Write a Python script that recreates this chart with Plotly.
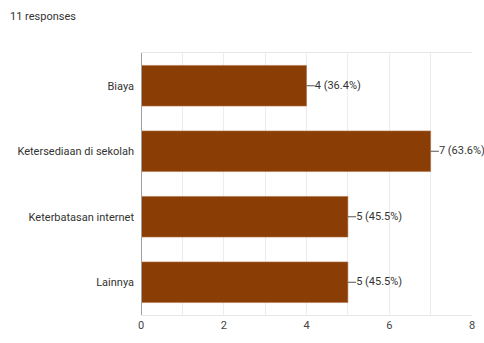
import plotly.graph_objects as go

categories = ["Biaya", "Ketersediaan di sekolah", "Keterbatasan internet", "Lainnya"]
counts = [4, 7, 5, 5]
total_responses = 11
x_ticks = [0, 2, 4, 6, 8]

BAR_COLOR = "#8a3d05"
FONT = "Roboto, Arial, sans-serif"
LEADER = 0.2  # leader line length, in axis units

labels = [f"{n} ({100.0 * n / total_responses:.1f}%)" for n in counts]

fig = go.Figure(
    go.Bar(
        x=counts,
        y=categories,
        orientation="h",
        marker=dict(color=BAR_COLOR, line=dict(color="#b0734a", width=0.6)),
        width=0.62,
        hoverinfo="skip",
    )
)

# short leader lines from each bar end to its label
for cat, n in zip(categories, counts):
    fig.add_trace(go.Scatter(
        x=[n, n + LEADER], y=[cat, cat], mode="lines",
        line=dict(color="#555555", width=1),
        hoverinfo="skip", cliponaxis=False,
    ))

fig.add_trace(go.Scatter(
    x=[n + LEADER for n in counts], y=categories,
    mode="text", text=labels, textposition="middle right",
    textfont=dict(family=FONT, size=11, color="#333333"),
    hoverinfo="skip", cliponaxis=False,
))

fig.add_annotation(
    x=0, y=1, xref="paper", yref="paper",
    text=f"{total_responses} responses",
    showarrow=False, xanchor="left", yanchor="top",
    xshift=-133, yshift=45,
    font=dict(family=FONT, size=11, color="#333333"),
)

fig.update_layout(
    width=484, height=343,
    margin=dict(l=141, r=12, t=53, b=28, autoexpand=False),
    paper_bgcolor="white", plot_bgcolor="white",
    showlegend=False,
    bargap=0.38,
    xaxis=dict(
        range=[0, 8], tickvals=x_ticks, automargin=False,
        showgrid=True, gridcolor="#ececec", gridwidth=1,
        minor=dict(dtick=1, showgrid=True, gridcolor="#ececec"),
        zeroline=False,
        showline=True, linecolor="#e8e8e8", linewidth=1, mirror=True,
        ticks="", tickfont=dict(family=FONT, size=11, color="#444444"),
        fixedrange=True,
    ),
    yaxis=dict(
        categoryorder="array", categoryarray=categories[::-1],
        automargin=False,
        showgrid=False, zeroline=False,
        showline=False,
        ticks="", ticklabelstandoff=6,
        tickfont=dict(family=FONT, size=11, color="#333333"),
        fixedrange=True,
    ),
)

# darker vertical axis line along x = 0
fig.add_shape(type="line", xref="x", yref="paper", x0=0, x1=0, y0=0, y1=1,
              line=dict(color="#a0a0a0", width=2))

fig.write_html("out.html")
